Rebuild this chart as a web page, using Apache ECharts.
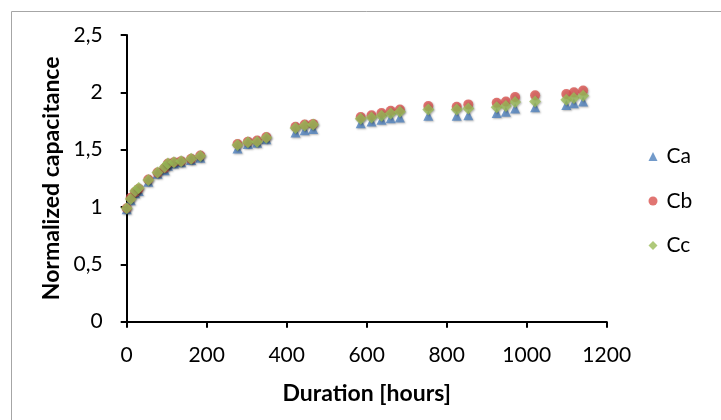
<!DOCTYPE html>
<html>
<head>
<meta charset="utf-8">
<script src="https://cdn.jsdelivr.net/npm/echarts@6/dist/echarts.min.js"></script>
<style>html,body{margin:0;padding:0;background:#fff;}#c{width:721px;height:420px;}</style>
</head>
<body>
<div id="c"></div>
<script>
var hours = [0, 10, 21, 30, 54, 77, 95, 103, 118, 136, 161, 184, 277, 303, 326, 349, 422, 445, 466, 585, 612, 637, 660, 683, 754, 825, 854, 925, 948, 971, 1021, 1099, 1118, 1141];
var Ca = [0.98, 1.06, 1.12, 1.14, 1.22, 1.29, 1.32, 1.36, 1.38, 1.39, 1.41, 1.43, 1.51, 1.55, 1.56, 1.59, 1.65, 1.67, 1.68, 1.73, 1.745, 1.76, 1.775, 1.78, 1.795, 1.795, 1.80, 1.82, 1.83, 1.86, 1.87, 1.89, 1.905, 1.92];
var Cb = [0.99, 1.08, 1.13, 1.16, 1.24, 1.30, 1.34, 1.38, 1.39, 1.40, 1.42, 1.45, 1.55, 1.57, 1.58, 1.61, 1.70, 1.72, 1.725, 1.785, 1.80, 1.82, 1.84, 1.85, 1.88, 1.875, 1.895, 1.91, 1.92, 1.96, 1.975, 1.985, 2.0, 2.015];
var Cc = [0.99, 1.07, 1.14, 1.165, 1.235, 1.30, 1.35, 1.38, 1.39, 1.40, 1.42, 1.445, 1.54, 1.565, 1.57, 1.605, 1.69, 1.71, 1.72, 1.77, 1.78, 1.795, 1.815, 1.83, 1.85, 1.85, 1.86, 1.87, 1.88, 1.915, 1.92, 1.935, 1.95, 1.97];
var seriesNames = ['Ca', 'Cb', 'Cc'];
var xTicks = {min: 0, max: 1200, interval: 200};
var yTicks = {min: 0, max: 2.5, interval: 0.5};

function pairs(v) { return hours.map(function (h, i) { return [h, v[i]]; }); }
var font = 'Lato, "Open Sans", sans-serif';
var shadow = {shadowBlur: 2, shadowColor: 'rgba(0,0,0,0.35)', shadowOffsetX: 1, shadowOffsetY: 1};
var chart = echarts.init(document.getElementById('c'));
chart.setOption({
  animation: false,
  backgroundColor: '#fff',
  graphic: [{
    type: 'rect', shape: {x: 11.5, y: 11.5, width: 720, height: 420},
    style: {fill: 'none', stroke: '#a6a6a6', lineWidth: 1}, silent: true, z: -1
  }],
  grid: {left: 126.7, right: 114.3, top: 35, bottom: 98.3},
  legend: {
    orient: 'vertical', left: 643.5, top: 140.5, itemGap: 22.5,
    itemWidth: 9, itemHeight: 9,
    textStyle: {fontFamily: font, fontSize: 21, lineHeight: 22, color: '#000', padding: [0, 0, 0, 4]},
    data: [
      {name: 'Ca', icon: 'triangle'},
      {name: 'Cb', icon: 'circle'},
      {name: 'Cc', icon: 'diamond'}
    ]
  },
  xAxis: {
    type: 'value', min: xTicks.min, max: xTicks.max, interval: xTicks.interval,
    name: 'Duration [hours]', nameLocation: 'middle', nameGap: 60,
    nameTextStyle: {fontFamily: font, fontSize: 23, fontWeight: 'bold', color: '#000'},
    axisLine: {lineStyle: {color: '#000', width: 2}},
    axisTick: {show: true, length: 6, lineStyle: {color: '#000', width: 2}},
    axisLabel: {fontFamily: font, fontSize: 21, color: '#000', margin: 23,
      formatter: function (v) { return String(v); }},
    splitLine: {show: false}
  },
  yAxis: {
    type: 'value', min: yTicks.min, max: yTicks.max, interval: yTicks.interval,
    name: 'Normalized capacitance', nameLocation: 'middle', nameGap: 62, nameRotate: 90,
    nameTextStyle: {fontFamily: font, fontSize: 23, fontWeight: 'bold', color: '#000'},
    axisLine: {show: true, lineStyle: {color: '#000', width: 2}},
    axisTick: {show: true, length: 6, lineStyle: {color: '#000', width: 2}},
    axisLabel: {fontFamily: font, fontSize: 21, color: '#000', margin: 24,
      formatter: function (v) { return String(v).replace('.', ','); }},
    splitLine: {show: false}
  },
  series: [
    {name: 'Ca', type: 'scatter', symbol: 'triangle', symbolSize: 10, data: pairs(Ca),
      itemStyle: Object.assign({color: '#4F81BD'}, shadow)},
    {name: 'Cb', type: 'scatter', symbol: 'circle', symbolSize: 10, data: pairs(Cb),
      itemStyle: Object.assign({color: '#D9534F'}, shadow)},
    {name: 'Cc', type: 'scatter', symbol: 'diamond', symbolSize: 12, data: pairs(Cc),
      itemStyle: Object.assign({color: '#9BBB59'}, shadow)}
  ]
});
</script>
</body>
</html>
